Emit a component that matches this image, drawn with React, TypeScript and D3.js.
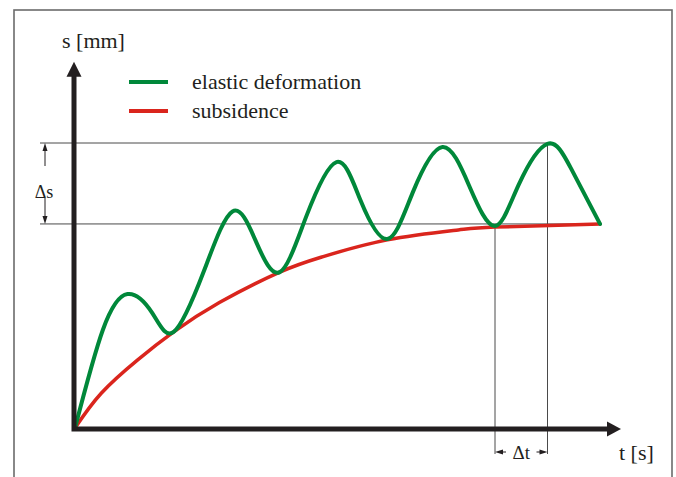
import React from 'react'
import * as d3 from 'd3'

// elastic deformation curve: extrema plus half-way points
const elasticT = [0, 0.53, 1.0, 1.47, 1.88, 2.45, 3.0, 3.45, 3.9, 4.4, 4.98, 5.44, 5.95, 6.43, 7.0, 7.52, 8.0, 8.45, 9.0, 9.45, 10]
const elasticS = [0, 3.44, 4.7, 4.04, 3.37, 5.48, 7.6, 6.53, 5.47, 7.4, 9.33, 7.98, 6.63, 8.25, 9.86, 8.45, 7.09, 8.53, 9.97, 9.1, 7.16]

// subsidence curve
const subsidenceT = [0, 0.5, 1.2, 1.88, 2.75, 3.9, 4.7, 5.95, 7.3, 8.0, 10]
const subsidenceS = [0, 1.22, 2.4, 3.37, 4.4, 5.47, 6.0, 6.6, 6.95, 7.05, 7.16]

const legendLabels = ['elastic deformation', 'subsidence']
const legendColors = ['#00883a', '#da251d']
const axisLabels = ['s [mm]', 't [s]']

// marked values: delta s between two levels, delta t between two times
const levelTop = 10
const levelBottom = 7.16
const timeLeft = 8.0
const timeRight = 9.0

const W = 676
const H = 477
const ink = '#231f20'
const thin = '#4a4a4a'
const font = 'Liberation Serif, DejaVu Serif, serif'

export default function App() {
  const x = d3.scaleLinear().domain([0, 10]).range([75, 600])
  const y = d3.scaleLinear().domain([0, 10]).range([428, 143])

  const line = d3.line<[number, number]>()
    .x(d => x(d[0]))
    .y(d => y(d[1]))
    .curve(d3.curveNatural)

  const elastic = elasticT.map((t, i) => [t, elasticS[i]] as [number, number])
  const subsidence = subsidenceT.map((t, i) => [t, subsidenceS[i]] as [number, number])

  const axisX = 74
  const axisY = 429
  const xEnd = x(10.4)
  const yEnd = y(12.85)

  const yTop = y(levelTop)
  const yBot = y(levelBottom)
  const xL = x(timeLeft)
  const xR = x(timeRight)
  const dtY = 452

  const txt = { fontFamily: font, fill: ink }

  return (
    <svg width={W} height={H} style={{ position: 'absolute', left: 0, top: 0, background: '#fff' }}>
      {/* frame */}
      <rect x={14} y={10} width={658} height={500} fill="none" stroke="#6b6b6b" strokeWidth={1.6} />

      {/* reference lines */}
      <line x1={40} x2={xR} y1={yTop} y2={yTop} stroke={thin} strokeWidth={1} />
      <line x1={40} x2={x(10)} y1={yBot} y2={yBot} stroke={thin} strokeWidth={1} />
      <line x1={xL} x2={xL} y1={yBot} y2={454} stroke={thin} strokeWidth={1} />
      <line x1={xR} x2={xR} y1={yTop} y2={454} stroke={thin} strokeWidth={1} />

      {/* delta s */}
      <line x1={45} x2={45} y1={yTop + 6} y2={166} stroke={ink} strokeWidth={1} />
      <path d={`M45,${yTop} L42.5,${yTop + 8} L47.5,${yTop + 8} Z`} fill={ink} />
      <line x1={45} x2={45} y1={198} y2={yBot - 6} stroke={ink} strokeWidth={1} />
      <path d={`M45,${yBot} L42.5,${yBot - 8} L47.5,${yBot - 8} Z`} fill={ink} />
      <text x={44} y={198} fontSize={18} textAnchor="middle" style={txt}>Δs</text>

      {/* delta t */}
      <line x1={xL + 6} x2={xL + 11} y1={dtY} y2={dtY} stroke={ink} strokeWidth={1} />
      <path d={`M${xL},${dtY} L${xL + 8},${dtY - 2.5} L${xL + 8},${dtY + 2.5} Z`} fill={ink} />
      <line x1={xR - 11} x2={xR - 6} y1={dtY} y2={dtY} stroke={ink} strokeWidth={1} />
      <path d={`M${xR},${dtY} L${xR - 8},${dtY - 2.5} L${xR - 8},${dtY + 2.5} Z`} fill={ink} />
      <text x={(xL + xR) / 2} y={459} fontSize={19} textAnchor="middle" style={txt}>Δt</text>

      {/* curves */}
      <path d={line(subsidence) || ''} fill="none" stroke={legendColors[1]} strokeWidth={3.5} strokeLinecap="round" />
      <path d={line(elastic) || ''} fill="none" stroke={legendColors[0]} strokeWidth={4} strokeLinecap="round" strokeLinejoin="round" />

      {/* axes */}
      <path d={`M${axisX},${yEnd + 12} L${axisX},${axisY} L${xEnd - 12},${axisY}`} fill="none" stroke={ink} strokeWidth={5} strokeLinejoin="miter" />
      <path d={`M${axisX},${yEnd} L${axisX - 7.5},${yEnd + 15} L${axisX + 7.5},${yEnd + 15} Z`} fill={ink} />
      <path d={`M${xEnd},${axisY} L${xEnd - 14},${axisY - 7.5} L${xEnd - 14},${axisY + 7.5} Z`} fill={ink} />

      <text x={62} y={48} fontSize={22} style={txt}>{axisLabels[0]}</text>
      <text x={619} y={460} fontSize={22} style={txt}>{axisLabels[1]}</text>

      {/* legend */}
      {legendLabels.map((lab, i) => (
        <g key={lab} transform={`translate(0,${82 + i * 29})`}>
          <line x1={129} x2={168} y1={0} y2={0} stroke={legendColors[i]} strokeWidth={4} />
          <text x={192} y={6.5} fontSize={22} style={txt}>{lab}</text>
        </g>
      ))}
    </svg>
  )
}
